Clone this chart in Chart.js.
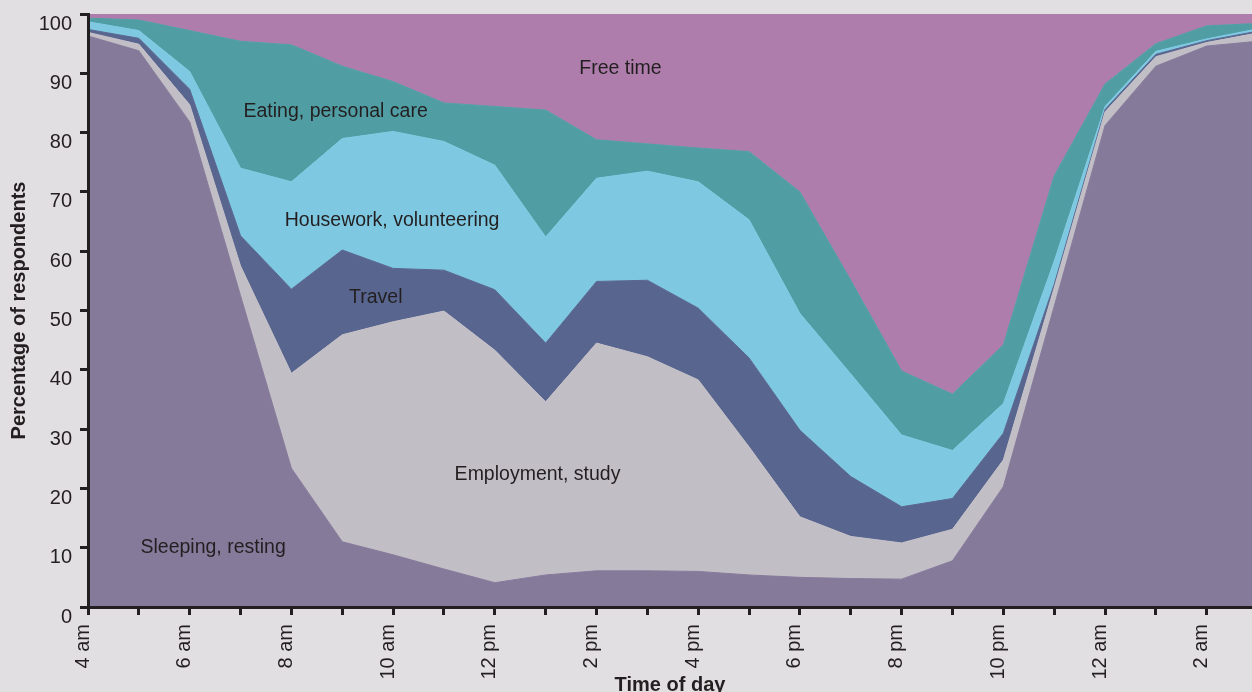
<!DOCTYPE html>
<html>
<head>
    <title>Time of day</title>
    <script src="https://cdn.jsdelivr.net/npm/chart.js"></script>
    <style>
        html, body { margin: 0; padding: 0; background: #e1dfe2; overflow: hidden; }
    </style>
</head>
<body>
    <canvas id="chart" width="1252" height="692"></canvas>

    <script>
        // hourly readings, 4 am through 3 am (percent of respondents)
        const hourLabels = ['4 am', '5 am', '6 am', '7 am', '8 am', '9 am', '10 am', '11 am',
            '12 pm', '1 pm', '2 pm', '3 pm', '4 pm', '5 pm', '6 pm', '7 pm', '8 pm', '9 pm',
            '10 pm', '11 pm', '12 am', '1 am', '2 am', '3 am'];

        const sleeping   = [96.3, 93.8, 81.8, 52.5, 23.4, 11.0, 8.8, 6.4, 4.1, 5.4, 6.1, 6.1,
                            6.0, 5.4, 5.0, 4.8, 4.7, 7.8, 20.3, 50.7, 81.2, 91.2, 94.6, 95.4];
        const employment = [0.6, 1.1, 2.9, 5.0, 16.0, 34.9, 39.3, 43.5, 39.2, 29.2, 38.4, 36.1,
                            32.3, 21.6, 10.2, 7.1, 6.1, 5.3, 4.5, 3.1, 2.3, 1.6, 0.6, 1.4];
        const travel     = [0.5, 1.0, 2.6, 5.1, 14.2, 14.3, 9.0, 6.9, 10.2, 9.9, 10.4, 12.9,
                            12.1, 15.0, 14.6, 10.1, 6.1, 5.2, 4.5, 0.6, 0.4, 0.4, 0.3, 0.3];
        const housework  = [1.3, 1.3, 3.0, 11.4, 18.1, 18.8, 23.1, 21.7, 21.0, 17.9, 17.4, 18.4,
                            21.3, 23.3, 19.7, 17.3, 12.1, 8.1, 5.0, 3.9, 0.5, 0.5, 0.3, 0.4];
        const eating     = [0.6, 1.8, 6.9, 21.4, 23.1, 12.2, 8.4, 6.5, 9.9, 21.4, 6.5, 4.6,
                            5.7, 11.5, 20.5, 15.8, 10.8, 9.5, 9.9, 14.4, 3.8, 1.3, 2.2, 0.9];
        const freeTime   = [0.7, 1.0, 2.8, 4.6, 5.2, 8.8, 11.4, 15.0, 15.6, 16.2, 21.2, 21.9,
                            22.6, 23.2, 30.0, 44.9, 60.2, 64.1, 55.8, 27.3, 11.8, 5.0, 2.0, 1.6];

        const yTicks = [0, 10, 20, 30, 40, 50, 60, 70, 80, 90, 100];

        const ink = '#231f20';
        const font = '"Liberation Sans", Arial, sans-serif';

        const layers = [
            { label: 'Sleeping, resting',       values: sleeping,   color: '#857a9a', at: [2.46, 10.0] },
            { label: 'Employment, study',       values: employment, color: '#c2bec6', at: [8.84, 22.3] },
            { label: 'Travel',                  values: travel,     color: '#58668f', at: [5.66, 52.1] },
            { label: 'Housework, volunteering', values: housework,  color: '#7ec8e1', at: [5.98, 65.1] },
            { label: 'Eating, personal care',   values: eating,     color: '#509ea4', at: [4.87, 83.5] },
            { label: 'Free time',               values: freeTime,   color: '#ae7dab', at: [10.47, 90.8] }
        ];

        // names written inside each band
        const areaNames = {
            id: 'areaNames',
            afterDatasetsDraw(chart) {
                const { ctx, scales } = chart;
                ctx.save();
                ctx.fillStyle = ink;
                ctx.font = '19.5px ' + font;
                ctx.textAlign = 'center';
                ctx.textBaseline = 'middle';
                layers.forEach(l => {
                    ctx.fillText(l.label, scales.x.getPixelForValue(l.at[0]), scales.y.getPixelForValue(l.at[1]));
                });
                ctx.restore();
            }
        };

        const axisGrid = { drawOnChartArea: false, drawTicks: true, tickLength: 8, tickWidth: 3, tickColor: ink, z: 1 };
        const axisBorder = { display: true, color: ink, width: 3, z: 1 };

        const ctx = document.getElementById('chart').getContext('2d');
        const chart = new Chart(ctx, {
            type: 'line',
            data: {
                datasets: layers.map((l, i) => ({
                    label: l.label,
                    data: l.values.map((v, h) => ({ x: h, y: v })),
                    backgroundColor: l.color,
                    borderColor: l.color,
                    borderWidth: 1,
                    pointRadius: 0,
                    tension: 0,
                    fill: i === 0 ? 'origin' : '-1'
                }))
            },
            options: {
                responsive: false,
                animation: false,
                layout: { padding: { top: 14, right: 0, left: 0, bottom: 0 } },
                plugins: {
                    legend: { display: false },
                    tooltip: { enabled: false }
                },
                scales: {
                    x: {
                        type: 'linear',
                        min: 0,
                        max: 22.89,
                        afterFit: s => { s.height = 85; },
                        border: axisBorder,
                        grid: axisGrid,
                        ticks: {
                            stepSize: 1,
                            includeBounds: false,
                            autoSkip: false,
                            minRotation: 90,
                            maxRotation: 90,
                            padding: 9,
                            labelOffset: -5,
                            color: ink,
                            font: { size: 20, family: font },
                            callback: v => (v % 2 === 0 ? hourLabels[v] : '')
                        },
                        title: {
                            display: true,
                            text: 'Time of day',
                            color: ink,
                            font: { size: 20, weight: 'bold', family: font },
                            padding: { top: 0, bottom: -5 }
                        }
                    },
                    y: {
                        stacked: true,
                        min: 0,
                        max: 100,
                        afterFit: s => { s.width = 88; },
                        afterBuildTicks: s => { s.ticks = yTicks.map(v => ({ value: v })); },
                        border: axisBorder,
                        grid: axisGrid,
                        ticks: {
                            align: 'start',
                            padding: 8,
                            labelOffset: 0,
                            color: ink,
                            font: { size: 20, family: font }
                        },
                        title: {
                            display: true,
                            text: 'Percentage of respondents',
                            color: ink,
                            font: { size: 20, weight: 'bold', family: font },
                            padding: { top: 7, bottom: 0 }
                        }
                    }
                }
            },
            plugins: [areaNames]
        });
    </script>
</body>
</html>
